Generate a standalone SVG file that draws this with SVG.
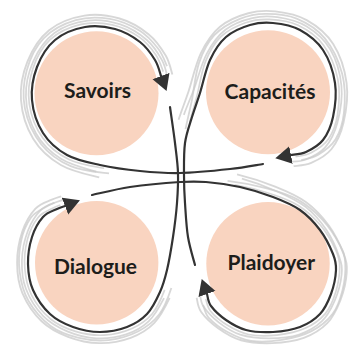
<svg xmlns="http://www.w3.org/2000/svg" xmlns:xlink="http://www.w3.org/1999/xlink" width="353" height="347" viewBox="0 0 353 347">
<style>
  .node { fill: #f9d4c0; }
  .label { font-family: Lato, "Liberation Sans", sans-serif; font-weight: 700; font-size: 21px; fill: #1d1d1b; text-anchor: middle; }
  .flow { fill: none; stroke: #333333; stroke-width: 2.2; stroke-linecap: round; }
  .loop { marker-end: url(#arrow); }
  .g { fill: none; stroke: #c9c9c9; stroke-width: 1.6; opacity: 0.75; }
</style>
<defs>
  <marker id="arrow" markerUnits="userSpaceOnUse" markerWidth="20" markerHeight="20" viewBox="0 -10 20 20" refX="0" refY="0" orient="auto">
    <path d="M0,-9 L16,0 L0,9 Z" fill="#333333"/>
  </marker>
  <path id="gS" d="M100,165 C87.8,162.3 76.5,160.3 67,155 S48.8,142.2 43,133 S33,111 32,100 S33.2,77 37,67 S47,46.7 55,40 S75,28.8 85,27 S105.8,26.5 115,29 S133.3,36.8 140,42 S151.5,54.3 155,60 S160,73.3 161,76"/>
  <path id="gC" d="M192,117 C194.5,108.7 197,102.5 200,93 S205.7,69.3 210,60 S219.3,42.8 226,37 S242.2,27.3 250,25 S264.7,22.2 273,23 S291.7,25.5 300,30 S317.2,41.2 323,50 S333.3,71.8 335,83 S335,107.5 333,117 S327.5,134.2 323,140 S311.3,149.5 306,152 S293.5,154.5 291,155"/>
  <path id="gD" d="M160,292 C156.7,299.3 152.5,308.2 147,314 S134.8,324 127,327 S109,332 100,332 S81.3,330 73,327 S56.7,320.2 50,314 S36.7,298.3 33,290 S28.2,272.8 28,264 S29.5,244.8 32,237 S38.8,221.7 43,217 S53.3,210.8 57,209 S63.7,206.5 65,206"/>
  <path id="gP" d="M240,187 C251.2,189.5 263,193.2 273,197 S292.2,204.5 300,210 S314.5,222.7 320,230 S330.3,247.3 333,254 S336.3,263.3 336,270 S333.7,286.7 331,294 S325.2,308.5 320,314 S307.8,324 300,327 S282,331.5 273,332 S253.8,332 246,330 S231.8,324 226,320 S214.2,310.3 211,306 S207.7,296 207,294"/>
</defs>

<g id="nodes">
  <g id="savoirs">
    <circle class="node" cx="96.5" cy="93.3" r="62"/>
    <text class="label" x="97.5" y="97.5">Savoirs</text>
  </g>
  <g id="capacites">
    <circle class="node" cx="268" cy="92.2" r="62"/>
    <text class="label" x="270" y="99.3">Capacités</text>
  </g>
  <g id="dialogue">
    <circle class="node" cx="96.7" cy="262.8" r="61.7"/>
    <text class="label" x="95.5" y="274.3">Dialogue</text>
  </g>
  <g id="plaidoyer">
    <circle class="node" cx="268" cy="263.7" r="61.7"/>
    <text class="label" x="271.3" y="270.3">Plaidoyer</text>
  </g>
</g>

<g id="connectors">
  <g id="sketch">
    <use xlink:href="#gS" href="#gS" class="g" transform="translate(96 93) rotate(-3) scale(1.05) translate(-96 -93)"/>
    <use xlink:href="#gS" href="#gS" class="g" transform="translate(96 93) rotate(3) scale(1.09) translate(-96 -93)"/>
    <use xlink:href="#gS" href="#gS" class="g" transform="translate(96 93) rotate(-6) scale(1.13) translate(-96 -93)"/>
    <use xlink:href="#gS" href="#gS" class="g" transform="translate(96 93) rotate(1) scale(1.17) translate(-96 -93)"/>
    <use xlink:href="#gC" href="#gC" class="g" transform="translate(268 92) rotate(-3) scale(1.05) translate(-268 -92)"/>
    <use xlink:href="#gC" href="#gC" class="g" transform="translate(268 92) rotate(3) scale(1.09) translate(-268 -92)"/>
    <use xlink:href="#gC" href="#gC" class="g" transform="translate(268 92) rotate(-6) scale(1.13) translate(-268 -92)"/>
    <use xlink:href="#gC" href="#gC" class="g" transform="translate(268 92) rotate(1) scale(1.17) translate(-268 -92)"/>
    <use xlink:href="#gD" href="#gD" class="g" transform="translate(96 263) rotate(-3) scale(1.05) translate(-96 -263)"/>
    <use xlink:href="#gD" href="#gD" class="g" transform="translate(96 263) rotate(3) scale(1.09) translate(-96 -263)"/>
    <use xlink:href="#gD" href="#gD" class="g" transform="translate(96 263) rotate(-6) scale(1.13) translate(-96 -263)"/>
    <use xlink:href="#gD" href="#gD" class="g" transform="translate(96 263) rotate(1) scale(1.16) translate(-96 -263)"/>
    <use xlink:href="#gP" href="#gP" class="g" transform="translate(268 263) rotate(-3) scale(1.05) translate(-268 -263)"/>
    <use xlink:href="#gP" href="#gP" class="g" transform="translate(268 263) rotate(3) scale(1.09) translate(-268 -263)"/>
    <use xlink:href="#gP" href="#gP" class="g" transform="translate(268 263) rotate(-6) scale(1.13) translate(-268 -263)"/>
    <use xlink:href="#gP" href="#gP" class="g" transform="translate(268 263) rotate(1) scale(1.16) translate(-268 -263)"/>
  </g>
  <path id="to-savoirs" class="flow loop" d="M263,164 C257.5,164.8 243.8,167.5 230,169 S195,172.7 180,173 S153.3,172.3 140,171 S112.2,167.7 100,165 S76.5,160.3 67,155 S48.8,142.2 43,133 S33,111 32,100 S33.2,77 37,67 S47,46.7 55,40 S75,28.8 85,27 S105.8,26.5 115,29 S133.3,36.8 140,42 S151.5,54.3 155,60 S160,73.3 161,76"/>
  <path id="to-capacites" class="flow loop" d="M195,265 C193.8,260.3 189.7,247.3 188,237 S185.7,213.3 185,203 S184,185 184,175 S183.7,152.7 185,143 S189.5,125.3 192,117 S197,102.5 200,93 S205.7,69.3 210,60 S219.3,42.8 226,37 S242.2,27.3 250,25 S264.7,22.2 273,23 S291.7,25.5 300,30 S317.2,41.2 323,50 S333.3,71.8 335,83 S335,107.5 333,117 S327.5,134.2 323,140 S311.3,149.5 306,152 S293.5,154.5 291,155"/>
  <path id="to-dialogue" class="flow loop" d="M170,107 C170.8,113 173.7,132 175,143 S177.7,163 178,173 S177.8,192.3 177,203 S174.7,225.8 173,237 S169.2,260.8 167,270 S163.3,284.7 160,292 S152.5,308.2 147,314 S134.8,324 127,327 S109,332 100,332 S81.3,330 73,327 S56.7,320.2 50,314 S36.7,298.3 33,290 S28.2,272.8 28,264 S29.5,244.8 32,237 S38.8,221.7 43,217 S53.3,210.8 57,209 S63.7,206.5 65,206"/>
  <path id="to-plaidoyer" class="flow loop" d="M92,195 C98.3,193.7 115.3,189.2 130,187 S167.3,182.8 180,182 S196,181.2 206,182 S228.8,184.5 240,187 S263,193.2 273,197 S292.2,204.5 300,210 S314.5,222.7 320,230 S330.3,247.3 333,254 S336.3,263.3 336,270 S333.7,286.7 331,294 S325.2,308.5 320,314 S307.8,324 300,327 S282,331.5 273,332 S253.8,332 246,330 S231.8,324 226,320 S214.2,310.3 211,306 S207.7,296 207,294"/>
</g>
</svg>
